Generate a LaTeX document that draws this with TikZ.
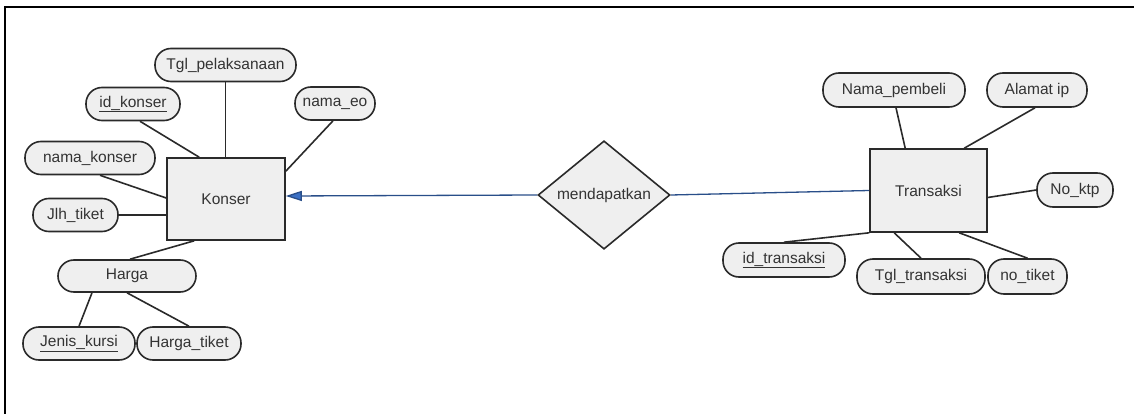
\documentclass[tikz,border=0pt]{standalone}
\usepackage{fontspec}
\setmainfont{Liberation Sans}
\usetikzlibrary{shapes.geometric,calc,arrows.meta}
\definecolor{shapefill}{HTML}{EFEFEF}
\definecolor{textgrey}{HTML}{333333}
\definecolor{linegrey}{HTML}{2A2A2A}
\definecolor{relblue}{HTML}{3A6FC4}
\begin{document}
\begin{tikzpicture}[x=1pt,y=-1pt,
  every node/.style={font=\fontsize{15.5}{17}\selectfont, text=textgrey},
  entity/.style={draw=linegrey, line width=1.6pt, fill=shapefill, rectangle, inner sep=0pt},
  attr/.style={draw=linegrey, line width=1.6pt, fill=shapefill, rectangle, rounded corners=16pt, inner sep=0pt, minimum height=33pt},
  rel/.style={draw=linegrey, line width=1.6pt, fill=shapefill, diamond, inner sep=0pt, minimum width=132pt, minimum height=84pt},
  conn/.style={draw=linegrey, line width=1.6pt},
  relline/.style={draw=relblue!70!black, line width=1.3pt},
  frame/.style={draw=black, line width=1.5pt}
]
\useasboundingbox (0,0) rectangle (1134,414);
% frame
\coordinate (fbl) at (5,414);
\coordinate (ftl) at (5,7);
\coordinate (ftr) at (1134,7);
\draw[frame] (fbl) -- (ftl) -- (ftr);

% entities
\node[entity, minimum width=118pt, minimum height=82pt] (konser) at (226,199) {Konser};
\node[entity, minimum width=117pt, minimum height=83pt] (trans) at (928.5,190.5) {Transaksi};
\node[rel] (rel) at (604,195) {mendapatkan};

% Konser attributes
\node[attr, minimum width=141pt] (tglp) at (225.5,65) {Tgl\_pelaksanaan};
\node[attr, minimum width=94pt] (idk) at (133,104) {\underline{id\_konser}};
\node[attr, minimum width=80pt] (namaeo) at (335,103.5) {nama\_eo};
\node[attr, minimum width=130pt] (nk) at (90,158) {nama\_konser};
\node[attr, minimum width=85pt] (jlh) at (75.5,215) {Jlh\_tiket};
\node[attr, minimum width=138pt, minimum height=32pt] (harga) at (127,276) {Harga};
\node[attr, minimum width=112pt] (jenis) at (79,343.5) {\underline{Jenis\_kursi}};
\node[attr, minimum width=104pt] (hargat) at (189,343.5) {Harga\_tiket};

% Transaksi attributes
\node[attr, minimum width=142pt, minimum height=34pt] (np) at (894,90) {Nama\_pembeli};
\node[attr, minimum width=100pt, minimum height=34pt] (al) at (1037,90) {Alamat ip};
\node[attr, minimum width=76pt, minimum height=34pt] (noktp) at (1075,190) {No\_ktp};
\node[attr, minimum width=122pt, minimum height=34pt] (idt) at (784,260) {\underline{id\_transaksi}};
\node[attr, minimum width=128pt, minimum height=35pt] (tglt) at (921,276.5) {Tgl\_transaksi};
\node[attr, minimum width=79pt, minimum height=35pt] (notik) at (1027.5,276.5) {no\_tiket};

% Konser connectors
\draw[conn] (tglp.south) -- (tglp.south |- konser.north);
\draw[conn] ($(idk.south)+(7,0)$) -- ($(konser.north west)+(33,0)$);
\draw[conn] ($(namaeo.south)+(-2,0)$) -- ($(konser.north east)+(0,14)$);
\draw[conn] ($(nk.south)+(10,0)$) -- ($(konser.west)+(0,-1)$);
\draw[conn] (jlh.east) -- (konser.west |- jlh.east);
\draw[conn] ($(konser.south west)+(28,0)$) -- ($(harga.north)+(3,0)$);
\draw[conn] ($(harga.south)+(-35,0)$) -- (jenis.north);
\draw[conn] (harga.south) -- (hargat.north);

% Transaksi connectors
\draw[conn] ($(np.south)+(2,0)$) -- ($(trans.north west)+(36,0)$);
\draw[conn] ($(al.south)+(-2,0)$) -- ($(trans.north west)+(95,0)$);
\draw[conn] ($(trans.east)+(0,7)$) -- (noktp.west);
\draw[conn] (trans.south west) -- (idt.north);
\draw[conn] ($(trans.south west)+(25,0)$) -- (tglt.north);
\draw[conn] ($(trans.south west)+(90,0)$) -- (notik.north);

% relationship lines
\draw[relline, -{Triangle[length=16pt,width=10pt,fill=relblue]}] (rel.west) -- ($(konser.east)+(0,-3)$);
\draw[relline] (rel.east) -- (trans.west);
\end{tikzpicture}
\end{document}
